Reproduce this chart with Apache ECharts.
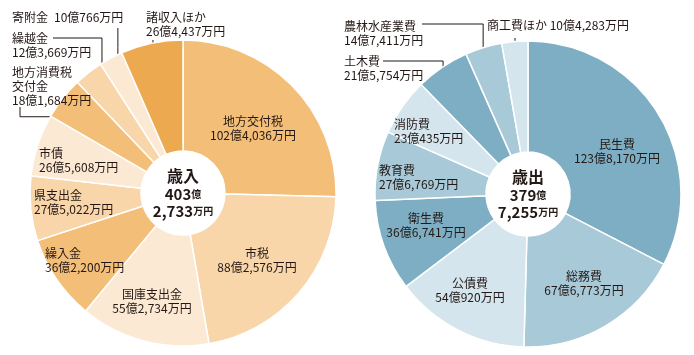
<!DOCTYPE html>
<html><head><meta charset="utf-8">
<script src="https://cdn.jsdelivr.net/npm/echarts@6/dist/echarts.min.js"></script>
<style>html,body{margin:0;padding:0;background:#fff}#c{width:694px;height:355px}</style>
</head><body><div id="c"></div>
<script>
// ---- data (units: 万円) ----
const revenueCategories = ['地方交付税','市税','国庫支出金','繰入金','県支出金','市債','地方消費税交付金','繰越金','寄附金','諸収入ほか'];
const revenueValues = [1024036, 882576, 552734, 362200, 275022, 265608, 181684, 123669, 100766, 264437];
const revenueTotal = [4032733];
const expenditureCategories = ['民生費','総務費','公債費','衛生費','教育費','消防費','土木費','農林水産業費','商工費ほか'];
const expenditureValues = [1238170, 676773, 540920, 366741, 276769, 230435, 215754, 147411, 104283];
const expenditureTotal = [3797255];

// ---- styling / layout ----
const FONT = '"Noto Sans CJK JP", "Noto Sans", sans-serif';
const TXT = '#231815';
const revColors = ['#F3BE77','#F8D6A9','#FCE9D3','#F3BE77','#F8D6A9','#FCE9D3','#F3BE77','#F8D6A9','#FCE9D3','#EDA94F'];
const expColors = ['#7DAEC3','#A8C9D7','#D4E5ED','#7DAEC3','#A8C9D7','#D4E5ED','#7DAEC3','#A8C9D7','#D4E5ED'];
const revCenter = [183, 193], expCenter = [528, 194];
const R0 = 42, R1 = 153;
const nameBreak = {'地方消費税交付金':'地方消費税\n交付金'};
const oneLine = {'寄附金':'\u2002', '商工費ほか':' '};

// label placement: [x, y, align, leader]
const revLabels = [
  [253,128,'center'], [257,260,'center'], [152,301,'center'],
  [45,260,'left'], [34,202,'left'], [39,160,'left'],
  [12,86,'left', {type:'hv', t:0.21, r:138, turnX:20, endY:107}],
  [12,45.5,'left', {type:'vh', t:0.75, r:140, turnY:38, endX:53}],
  [12,17,'left', {type:'v', t:0.59, r:142, endY:28}],
  [146,24.5,'left', {type:'v', t:0.49, r:144, endY:40}]
];
const expLabels = [
  [617,151,'center'], [584,283,'center'], [470,290,'center'], [426,225,'center'],
  [379,177,'left'], [394,131,'left'],
  [344,68.5,'left', {type:'vh', t:0.40, r:144, turnY:61, endX:383}],
  [344,33.5,'left', {type:'vh', t:0.39, r:142, turnY:24, endX:422}],
  [487,25,'left', {type:'v', t:0.47, r:142, endY:38}]
];

function fmt(v){
  const oku = Math.floor(v/10000), man = v % 10000;
  return oku + '億' + (man ? man.toLocaleString('en-US') : '') + '万円';
}
function anchor(values, i, t, r, c){
  const total = values.reduce((a,b)=>a+b,0);
  let start = 0; for (let k=0;k<i;k++) start += values[k];
  const a = (start + t*values[i]) / total * Math.PI * 2;
  return [c[0] + r*Math.sin(a), c[1] - r*Math.cos(a)];
}
function makeData(cats, vals, colors, specs){
  return cats.map((n,i)=>({
    name:n, value:vals[i],
    itemStyle:{color:colors[i]},
    label:{position: specs[i][3] ? 'outside' : 'inside'},
    labelLine:{show: !!specs[i][3]}
  }));
}
function makeLayout(vals, specs, c){
  return function(p){
    const s = specs[p.dataIndex];
    const out = {x:s[0], y:s[1], align:s[2], verticalAlign:'middle'};
    const L = s[3];
    if (L){
      const a = anchor(vals, p.dataIndex, L.t, L.r, c);
      if (L.type==='v') out.labelLinePoints = [a, [a[0], (a[1]+L.endY)/2], [a[0], L.endY]];
      else if (L.type==='vh') out.labelLinePoints = [a, [a[0], L.turnY], [L.endX, L.turnY]];
      else out.labelLinePoints = [a, [L.turnX, a[1]], [L.turnX, L.endY]];
    }
    return out;
  };
}
function labelFmt(p){
  const nm = nameBreak[p.name] || p.name;
  const sep = oneLine[p.name] !== undefined ? oneLine[p.name] : '\n';
  return nm + sep + fmt(p.value);
}
function mainPie(cats, vals, colors, specs, c){
  return {
    type:'pie', center:c, radius:[R0,R1], startAngle:90, clockwise:true,
    avoidLabelOverlap:false, silent:true,
    itemStyle:{borderColor:'#fff', borderWidth:1.5},
    label:{show:true, formatter:labelFmt, color:TXT, fontFamily:FONT, fontSize:12, lineHeight:14},
    labelLine:{lineStyle:{color:TXT, width:1}, length:5, length2:5},
    labelLayout: makeLayout(vals, specs, c),
    data: makeData(cats, vals, colors, specs)
  };
}
function centerPie(title, total, c){
  const oku = Math.floor(total/10000), man = total % 10000;
  return {
    type:'pie', center:c, radius:[0,R0], silent:true,
    itemStyle:{color:'#fff'},
    label:{show:true, position:'center',
      formatter:'{t|'+title+'}\n{n|'+oku+'}{u|億}\n{n|'+man.toLocaleString('en-US')+'}{u|万円}',
      rich:{
        t:{fontFamily:FONT, fontSize:16, fontWeight:'bold', color:TXT, lineHeight:19},
        n:{fontFamily:FONT, fontSize:15, fontWeight:'bold', color:TXT, lineHeight:17},
        u:{fontFamily:FONT, fontSize:10, fontWeight:'bold', color:TXT, lineHeight:17}
      }},
    labelLine:{show:false},
    data:[{name:title, value:total}]
  };
}
const chart = echarts.init(document.getElementById('c'));
chart.setOption({
  animation:false,
  backgroundColor:'#fff',
  series:[
    mainPie(revenueCategories, revenueValues, revColors, revLabels, revCenter),
    centerPie('歳入', revenueTotal[0], revCenter),
    mainPie(expenditureCategories, expenditureValues, expColors, expLabels, expCenter),
    centerPie('歳出', expenditureTotal[0], expCenter)
  ]
});
</script></body></html>
